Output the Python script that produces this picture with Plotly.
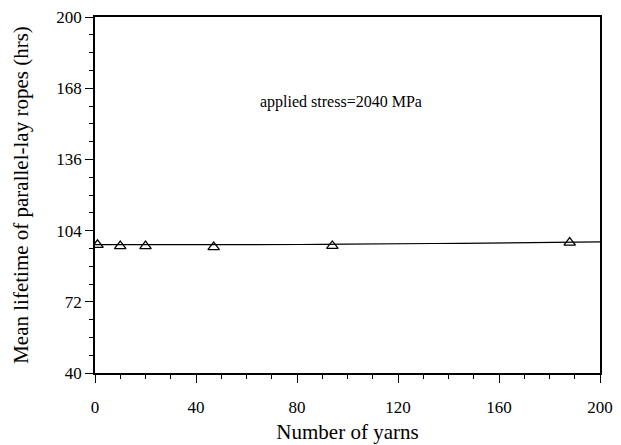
import plotly.graph_objects as go

yarns = [1, 10, 20, 47, 94, 188]
lifetime = [97.6, 97.0, 97.0, 96.6, 97.1, 98.6]
fit_x = [0, 50, 81, 100, 145, 200]
fit_y = [97.7, 97.7, 97.75, 97.9, 98.3, 98.9]
x_ticks = [0, 40, 80, 120, 160, 200]
y_ticks = [40, 72, 104, 136, 168, 200]

font = "Liberation Serif, Times New Roman, serif"

fig = go.Figure()
fig.add_trace(go.Scatter(x=fit_x, y=fit_y, mode="lines",
                         line=dict(color="black", width=1.2, shape="spline"),
                         showlegend=False, hoverinfo="skip"))
fig.add_trace(go.Scatter(x=yarns, y=lifetime, mode="markers",
                         marker=dict(symbol="triangle-up-open", size=10,
                                     color="black", line=dict(width=1.3)),
                         showlegend=False))

fig.add_annotation(x=0.487, y=0.792, xref="paper", yref="paper",
                   text="applied stress=2040 MPa", showarrow=False,
                   font=dict(family=font, size=16, color="black"))

axis_common = dict(showgrid=False, zeroline=False, showline=True,
                   linecolor="black", linewidth=1.5, mirror=True,
                   ticks="outside", ticklen=8, tickwidth=1.2, tickcolor="black",
                   automargin=False, ticklabeloverflow="allow",
                   tickfont=dict(family=font, size=17, color="black"))

fig.update_xaxes(range=[0, 200], tickvals=x_ticks, ticklabelstandoff=10,
                 minor=dict(dtick=10, ticks="outside", ticklen=4, tickcolor="black", tickwidth=1),
                 title=dict(text="Number of yarns", font=dict(family=font, size=21, color="black"),
                            standoff=8),
                 **axis_common)
fig.update_yaxes(range=[40, 200], tickvals=y_ticks,
                 minor=dict(dtick=8, ticks="outside", ticklen=4, tickcolor="black", tickwidth=1),
                 title=dict(text="Mean lifetime of parallel-lay ropes (hrs)",
                            font=dict(family=font, size=21, color="black"), standoff=22),
                 **axis_common)

fig.update_layout(width=621, height=445, plot_bgcolor="white", paper_bgcolor="white",
                  margin=dict(l=87, r=29, t=9, b=80))

fig.write_html("out.html")
